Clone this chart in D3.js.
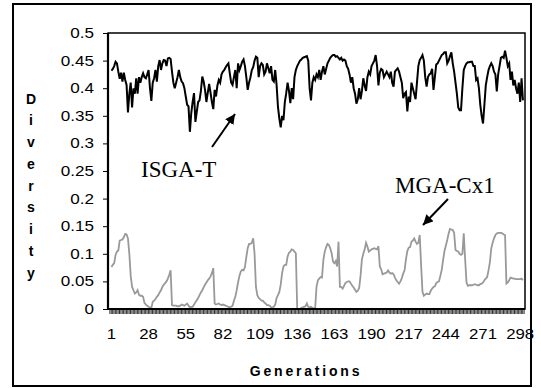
<!DOCTYPE html>
<html><head><meta charset="utf-8">
<script src="https://cdn.jsdelivr.net/npm/d3@7"></script>
<style>body{margin:0;background:#fff}</style>
</head><body><svg id="c" width="541" height="388"></svg>
<script>
const generations = d3.range(1, 301);
const isgaT = [
.432,.435,.44,.448,.445,.43,.417,.428,.412,.428,
.415,.406,.356,.39,.41,.365,.40,.39,.418,.39,
.42,.41,.42,.427,.42,.418,.425,.433,.40,.377,
.41,.418,.433,.412,.44,.451,.433,.445,.451,.45,
.44,.454,.455,.453,.43,.41,.40,.41,.42,.433,
.42,.412,.409,.40,.385,.37,.367,.321,.355,.375,
.391,.339,.357,.375,.378,.395,.421,.412,.397,.375,
.392,.408,.392,.375,.362,.397,.385,.405,.415,.41,
.425,.43,.433,.438,.442,.445,.427,.41,.406,.42,
.433,.40,.445,.433,.44,.448,.452,.44,.42,.397,
.41,.42,.433,.438,.45,.457,.455,.42,.44,.445,
.442,.425,.43,.445,.436,.427,.44,.415,.412,.433,
.406,.366,.345,.329,.35,.342,.375,.391,.41,.395,
.373,.40,.38,.42,.433,.44,.445,.45,.452,.455,
.456,.457,.458,.45,.40,.378,.41,.42,.415,.425,
.42,.433,.415,.43,.44,.425,.435,.445,.45,.455,
.458,.46,.46,.457,.458,.455,.452,.455,.45,.452,
.45,.44,.435,.425,.41,.42,.40,.39,.372,.38,
.40,.38,.395,.418,.405,.395,.42,.43,.425,.44,
.445,.45,.46,.44,.405,.428,.435,.433,.42,.425,
.43,.425,.42,.43,.41,.403,.43,.433,.436,.43,
.42,.41,.382,.39,.393,.358,.385,.375,.41,.40,
.39,.38,.41,.44,.451,.455,.46,.45,.42,.403,
.42,.425,.427,.435,.397,.42,.443,.445,.45,.455,
.46,.462,.465,.465,.445,.45,.458,.465,.445,.43,
.41,.39,.365,.36,.36,.40,.433,.44,.445,.447,
.447,.448,.448,.44,.44,.415,.418,.40,.37,.35,
.336,.37,.405,.42,.433,.44,.445,.44,.43,.425,
.394,.425,.44,.455,.457,.455,.468,.455,.44,.445,
.415,.43,.405,.415,.40,.39,.41,.375,.418,.378];
const mgaCx1 = [
.076,.08,.083,.098,.104,.106,.124,.125,.126,.13,
.136,.135,.128,.1,.06,.04,.034,.028,.03,.034,
.026,.024,.024,.022,.011,.008,.006,.004,.003,.002,
.013,.015,.018,.022,.025,.03,.034,.04,.044,.047,
.05,.055,.062,.07,.007,.006,.006,.006,.005,.005,
.006,.008,.007,.006,.008,.01,.006,.003,.004,.004,
.008,.012,.016,.02,.025,.03,.034,.039,.044,.048,
.052,.055,.059,.065,.074,.01,.008,.009,.01,.008,
.007,.008,.007,.006,.005,.004,.003,.004,.006,.015,
.022,.034,.048,.06,.068,.071,.07,.076,.094,.11,
.118,.118,.12,.128,.1,.04,.025,.02,.018,.015,
.015,.012,.01,.007,.007,.006,.003,.003,.004,.008,
.02,.025,.031,.044,.065,.077,.08,.08,.095,.102,
.104,.108,.107,.104,.101,0,0,0,.002,.003,
.004,.005,.01,.004,.003,.004,.002,.001,0,.04,
.052,.055,.058,.057,.089,.104,.112,.118,.116,.11,
.101,.086,.083,.087,.077,.122,.04,.04,.037,.042,
.047,.049,.05,.05,.046,.042,.039,.035,.031,.033,
.038,.06,.09,.1,.108,.12,.113,.104,.106,.108,
.109,.11,.109,.108,.114,.077,.072,.063,.064,.065,
.066,.07,.066,.064,.065,.063,.057,.052,.049,.046,
.05,.056,.064,.07,.09,.105,.111,.112,.122,.124,
.128,.122,.118,.12,.134,.08,.031,.024,.026,.028,
.027,.027,.033,.037,.04,.041,.047,.049,.05,.06,
.071,.089,.105,.115,.125,.137,.145,.144,.143,.138,
.107,.105,.104,.1,.098,.1,.137,.09,.048,.042,
.043,.043,.043,.044,.045,.044,.043,.043,.045,.046,
.048,.052,.055,.058,.07,.085,.11,.12,.128,.134,
.137,.138,.138,.138,.137,.135,.134,.046,.048,.052,
.057,.056,.055,.055,.054,.054,.054,.054,.055,.052];
const xTickLabels = [1,28,55,82,109,136,163,190,217,244,271,298];
const yTicks = [0,0.05,0.1,0.15,0.2,0.25,0.3,0.35,0.4,0.45,0.5];
const yTickLabels = ["0","0.05","0.1","0.15","0.2","0.25","0.3","0.35","0.4","0.45","0.5"];
const yTitle = "Diversity";
const xTitle = "Generations";
const seriesNames = ["ISGA-T","MGA-Cx1"];

const svg = d3.select('#c');
const L=108,R=525,T=33,B=309;
const x = d3.scaleLinear().domain([-1.5, 301.5]).range([L,R]);
const y = d3.scaleLinear().domain([0,0.5]).range([B,T]);
const sans = "'Liberation Sans', Arial, sans-serif";
const serif = "'Liberation Serif', 'Times New Roman', serif";

svg.append('rect').attr('x',13).attr('y',4).attr('width',518).attr('height',382)
  .attr('fill','#fff').attr('stroke','#000').attr('stroke-width',2);

// x category ticks
const xAxis = d3.axisBottom(x).tickValues(d3.range(-0.5, 301, 1)).tickSize(5).tickFormat('');
const gx = svg.append('g').attr('transform',`translate(0,${B})`).call(xAxis);
gx.select('.domain').remove();
gx.selectAll('.tick line').attr('stroke','#000').attr('stroke-width',0.8);

// x labels
svg.append('g').selectAll('text').data(xTickLabels).join('text')
  .attr('transform',d=>`translate(${x(d)},339) scale(1.2,1)`)
  .attr('text-anchor','middle').attr('font-family',sans).attr('font-size',14)
  .text(d=>d);

// y axis
const yAxis = d3.axisLeft(y).tickValues(yTicks).tickSize(5).tickFormat('');
const gy = svg.append('g').attr('transform',`translate(${L},0)`).call(yAxis);
gy.select('.domain').remove();
gy.selectAll('.tick line').attr('stroke','#000').attr('stroke-width',1);
svg.append('g').selectAll('text').data(yTicks).join('text')
  .attr('transform',d=>`translate(94,${y(d)+5}) scale(1.22,1)`)
  .attr('text-anchor','end').attr('font-family',sans).attr('font-size',14)
  .text((d,i)=>yTickLabels[i]);

// lines
const line = d3.line().x((d,i)=>x(generations[i])).y(d=>y(d));
svg.append('path').datum(mgaCx1).attr('d',line).attr('fill','none')
  .attr('stroke','#999').attr('stroke-width',1.8);
svg.append('path').datum(isgaT).attr('d',line).attr('fill','none')
  .attr('stroke','#000').attr('stroke-width',2);

// plot frame
svg.append('rect').attr('x',L).attr('y',T).attr('width',R-L).attr('height',B-T)
  .attr('fill','none').attr('stroke','#000').attr('stroke-width',1.5);
svg.append('line').attr('x1',L).attr('x2',L).attr('y1',T).attr('y2',B+1)
  .attr('stroke','#000').attr('stroke-width',2.2);
svg.append('line').attr('x1',L).attr('x2',R).attr('y1',B).attr('y2',B)
  .attr('stroke','#000').attr('stroke-width',2);

// titles
svg.append('text').attr('x',306).attr('y',376).attr('text-anchor','middle')
  .attr('font-family',sans).attr('font-weight','bold').attr('font-size',14)
  .attr('letter-spacing',2.8).text(xTitle);
svg.append('g').selectAll('text').data(yTitle.split('')).join('text')
  .attr('x',31).attr('y',(d,i)=>103.5+i*21.75).attr('text-anchor','middle')
  .attr('font-family',sans).attr('font-weight','bold').attr('font-size',14)
  .text(d=>d);

// annotations
svg.append('defs').append('marker').attr('id','ah').attr('viewBox','0 0 10 10')
  .attr('refX',10).attr('refY',5).attr('markerWidth',5).attr('markerHeight',5)
  .attr('markerUnits','strokeWidth').attr('orient','auto')
  .append('path').attr('d','M0,0L10,5L0,10z').attr('fill','#000');
svg.append('line').attr('x1',212).attr('y1',147).attr('x2',235).attr('y2',114)
  .attr('stroke','#000').attr('stroke-width',2).attr('marker-end','url(#ah)');
svg.append('line').attr('x1',448).attr('y1',199).attr('x2',423).attr('y2',225)
  .attr('stroke','#000').attr('stroke-width',2).attr('marker-end','url(#ah)');
svg.append('text').attr('x',141).attr('y',177).attr('font-family',serif).attr('font-size',23)
  .text(seriesNames[0]);
svg.append('text').attr('x',395).attr('y',193).attr('font-family',serif).attr('font-size',23)
  .text(seriesNames[1]);
</script></body></html>
